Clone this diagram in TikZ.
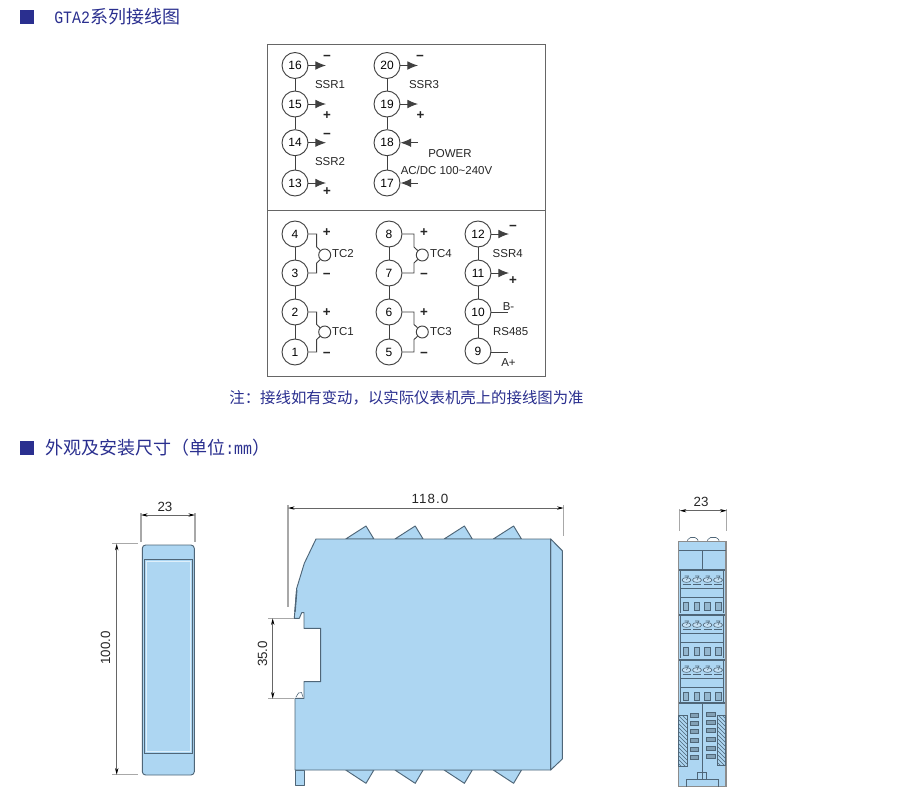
\documentclass[tikz,border=0pt]{standalone}
\usepackage{fontspec}
\setmainfont{Liberation Sans}
\newfontfamily\cjkf{Noto Sans CJK SC}
\newfontfamily\monof[FakeStretch=0.86]{Liberation Mono}
\usetikzlibrary{arrows.meta,patterns}
\definecolor{hblue}{HTML}{2A2F8F}
\definecolor{bodyblue}{HTML}{ADD6F2}
\definecolor{edgec}{HTML}{4F6678}
\definecolor{extc}{HTML}{A8A8A8}
\definecolor{wirec}{HTML}{404040}
\tikzset{
 term/.style={circle,draw=wirec,line width=0.7pt,minimum size=19.5pt,inner sep=0pt,fill=white,font=\fontsize{9}{10}\selectfont},
 tcring/.style={circle,draw=wirec,line width=0.7pt,minimum size=9pt,inner sep=0pt},
 lab/.style={inner sep=0pt,font=\fontsize{8.6}{10}\selectfont,text=black!85},
 signmark/.style={inner sep=0pt,font=\fontsize{10}{10}\bfseries\selectfont,text=black!85},
 wire/.style={draw=wirec,line width=0.7pt},
 outarrow/.style={wire,-{Latex[length=8pt,width=6.5pt]}},
 dimt/.style={inner sep=0pt,font=\fontsize{10}{11}\selectfont,text=black!85},
 extline/.style={draw=extc,line width=0.8pt},
 dimn/.style={draw=black!60,line width=0.6pt,{Stealth[length=5pt,width=2.5pt,black]}-{Stealth[length=5pt,width=2.5pt,black]}},
 bodyshape/.style={fill=bodyblue,draw=edgec,line width=0.7pt,line join=round},
 fineline/.style={draw=edgec,line width=0.45pt},
 bullet/.style={fill=hblue,draw=none},
 framebox/.style={draw=black!60,line width=0.7pt},
 heading/.style={inner sep=0pt,anchor=west,text=hblue}
}
\newcommand{\hcjk}[1]{{\fontsize{13.5}{15}\cjkf #1}}
\newcommand{\hmono}[1]{{\fontsize{13}{15}\monof #1}}
\newcommand{\rmodule}[1]{%
 \begin{scope}[yshift=#1*-0.75pt]
  \draw[fineline,line width=1pt] (679,570)--(725,570);
  \draw[fineline] (680.5,570)--(680.5,613) (723.5,570)--(723.5,613);
  \foreach \xx in {686.5,697,707.5,718}{
   \draw[fineline,fill=bodyblue!70] (\xx,580) ellipse (4.5 and 2.4);
   \draw[fineline] (\xx-2,576)--(\xx+2,576)--(\xx,580);
   \draw[fineline] (\xx-4,584.5)--(\xx+4,584.5);
  }
  \draw[fineline] (681,588)--(723,588) (681,597)--(723,597);
  \foreach \xx in {685.7,696.7,707.3,718.3}{
   \draw[fineline,line width=0.6pt,fill=bodyblue!85!black] (\xx-2.8,602) rectangle (\xx+2.8,610);
  }
 \end{scope}}
\begin{document}
\begin{tikzpicture}[x=0.75pt,y=-0.75pt]
\useasboundingbox (0,0) rectangle (900,801);
\fill[white] (0,0) rectangle (900,801);
% headings
\fill[bullet] (19.5,10) rectangle (34,24);
\node[heading] (h1) at (54,17) {\hmono{GTA2}\hcjk{系列接线图}};
\fill[bullet] (20,441) rectangle (34,455);
\node[heading] (h2) at (45,448) {\hcjk{外观及安装尺寸（单位}\hmono{:mm}\hcjk{）}};
\node[inner sep=0pt,text=hblue,font=\fontsize{11.55}{13}\cjkf] (note) at (406.5,398) {注：接线如有变动，以实际仪表机壳上的接线图为准};
% wiring box
\draw[framebox] (267,44) rectangle (545,376);
\draw[framebox] (267,210)--(545,210);
% terminals
\foreach \n/\x/\y in {16/295/65.5,15/295/104,14/295/142.7,13/295/183,
 20/387/65.5,19/387/104,18/387/142.7,17/387/183,
 4/295/234,3/295/273,2/295/312,1/295/352,
 8/389/234,7/389/273,6/389/312,5/389/352,
 12/478/234,11/478/273,10/478/312,9/478/351}{
 \node[term] (t\n) at (\x,\y) {\n};
}
\foreach \a/\b in {16/15,15/14,14/13,20/19,19/18,18/17,4/3,3/2,2/1,8/7,7/6,6/5,12/11,11/10,10/9}{
 \draw[wire] (t\a)--(t\b);
}
% arrows
\foreach \n/\xe/\ye in {16/326/65.5,15/326/104,14/326/142.7,13/326/183,20/418/65.5,19/418/104,12/509/234,11/509/273}{
 \coordinate (e\n) at (\xe,\ye);
 \draw[outarrow] (t\n)--(e\n);
}
\coordinate (e18) at (418,142.7);\coordinate (e17) at (418,183);
\draw[outarrow] (e18)--(t18);
\draw[outarrow] (e17)--(t17);
\coordinate (e10) at (508,312);\coordinate (e9) at (508,352);
\draw[wire] (t10)--(e10);
\draw[wire] (t9.east |- e9)--(e9);
% thermocouples
\foreach \r/\cx/\cy/\hi/\lo/\bx/\dy in {TCtwo/324.7/255/4/3/316.7/8,TCone/324.7/332/2/1/316.7/7.5,TCfour/422.3/255/8/7/414/8,TCthree/422.3/332/6/5/414/7.5}{
 \node[tcring] (\r) at (\cx,\cy) {};
 \draw[wire] (t\hi) -| (\bx,\cy-\dy) -- (\r);
 \draw[wire] (t\lo) -| (\bx,\cy+\dy) -- (\r);
}
% labels
\node[lab] (l1) at (330,85) {SSR1};
\node[lab] (l2) at (330,162) {SSR2};
\node[lab] (l3) at (424,85) {SSR3};
\node[lab] (l4) at (450,154) {POWER};
\node[lab] (l5) at (446.5,170) {AC/DC 100\textasciitilde 240V};
\node[lab] (l6) at (343,254) {TC2};
\node[lab] (l7) at (343,332) {TC1};
\node[lab] (l8) at (441,254) {TC4};
\node[lab] (l9) at (441,332) {TC3};
\node[lab] (l10) at (507.7,253.5) {SSR4};
\node[lab] (l11) at (510.7,332) {RS485};
\node[lab] (l12) at (508.5,306.5) {B-};
\node[lab] (l13) at (508.5,363) {A+};
\foreach \i/\x/\y/\s in {a/327/58/−,b/327/115.5/+,c/327/136/−,d/327/192/+,e/420/58/−,f/420.5/115.5/+,
 g/326.7/233/+,h/326.7/275.5/−,i/424/233/+,j/424/275.5/−,k/326.7/313/+,m/326.7/355/−,n/424/313/+,o/424/355/−,p/513/228/−,q/513/281/+}{
 \node[signmark] (s\i) at (\x,\y) {\s};
}
% left view
\draw[bodyshape,rounded corners=2.5pt] (142.3,545) rectangle (194.3,775);
\draw[draw=edgec,line width=0.8pt,fill=bodyblue] (144.5,559.5) rectangle (192.2,753.3);
\draw[draw=white!60!bodyblue,line width=0.6pt] (146,561) rectangle (190.8,751.8);
\draw[extline] (141,513)--(141,541.7);
\draw[extline] (195,513)--(195,541.7);
\coordinate (la) at (141,515);\coordinate (lb) at (195,515);
\draw[dimn] (la)--(lb);
\node[dimt] (d23a) at (165,506.5) {23};
\draw[extline] (112,543.7)--(138,543.7);
\draw[extline] (112,774.7)--(138,774.7);
\coordinate (lc) at (116.7,543.7);\coordinate (ld) at (116.7,774.7);
\draw[dimn] (lc)--(ld);
\node[dimt,rotate=90] (d100) at (105.5,648) {100.0};
% side view teeth
\foreach \d in {0,49.2,98.4,147.6}{
 \draw[bodyshape] (345.7+\d,539)--(366+\d,526)--(373.9+\d,539)--cycle;
 \draw[bodyshape] (345.7+\d,770)--(366+\d,783.3)--(373.9+\d,770)--cycle;
}
% foot and right strip
\draw[bodyshape] (295,770) rectangle (304,785);
\draw[bodyshape] (550.7,539)--(562.3,550.7)--(562.3,759)--(550.7,770)--cycle;
% side view main body
\draw[bodyshape] (316,539)--(550.7,539)--(550.7,770)--(295,770)--(295,698.3)--(304,698.3)--(304,681.7)--(320.7,681.7)--(320.7,628.3)--(304,628.3)--(304,612.7)--(301.7,612.7)--(299.3,618.3)--(294.3,618.3)--(296.7,588.3)--(304.3,563.3)--cycle;
\draw[draw=edgec,line width=1.1pt] (550.7,539)--(550.7,770);
\draw[fineline] (296,697)--(298.5,693)--(301.5,692.5)--(303,697);
\draw[draw=edgec,line width=1pt] (296.8,590)--(295,612);
\draw[extline] (288,505)--(288,606.7);
\draw[extline] (563.7,505)--(563.7,535.7);
\coordinate (ma) at (288,508);\coordinate (mb) at (563.7,508);
\draw[dimn] (ma)--(mb);
\node[dimt] (d118) at (430,498.5) {\addfontfeature{LetterSpace=8}118.0};
\draw[extline] (268,618.3)--(294,618.3);
\draw[extline] (268,698.7)--(294,698.7);
\coordinate (mc) at (272.7,618.3);\coordinate (md) at (272.7,698.7);
\draw[dimn] (mc)--(md);
\node[dimt,rotate=90] (d35) at (262.5,654) {35.0};
% front view
\draw[extline] (679.7,509)--(679.7,530.7);
\draw[extline] (726.7,509)--(726.7,530.7);
\coordinate (ra) at (679.7,510.7);\coordinate (rb) at (726.7,510.7);
\draw[dimn] (ra)--(rb);
\node[dimt] (d23b) at (701,502) {23};
\draw[fineline,rounded corners=1.5pt,fill=white] (687.3,541.7)--(688.5,537.5)--(697,537.5)--(698.3,541.7);
\draw[fineline,rounded corners=1.5pt,fill=white] (707.3,541.7)--(708.5,537.5)--(718,537.5)--(719.3,541.7);
\fill[bodyblue] (678.3,541.7) rectangle (726,786.7);
\draw[draw=black!45,line width=1pt] (678.3,541.7)--(678.3,786.7)--(726,786.7)--(726,541.7)--cycle;
\draw[fineline] (678.8,550.7)--(725.5,550.7);
\draw[fineline] (702.3,550.7)--(702.3,570);
\rmodule{0}
\rmodule{45}
\rmodule{90}
\draw[fineline,line width=1pt] (679,703)--(725,703);
\draw[fineline] (702.3,703)--(702.3,772.7);
\draw[fineline,pattern=north west lines,pattern color=edgec] (678.6,715)--(687.3,715)--(687.3,766.7)--(678.6,766.7)--cycle;
\draw[fineline,pattern=north west lines,pattern color=edgec] (717.3,715)--(725.7,715)--(725.7,765)--(717.3,765)--cycle;
\foreach \yy in {715,723.3,731.7,740.3,749,757.3}{
 \draw[fineline,fill=bodyblue!75!black] (690,\yy-2) rectangle (698.3,\yy+2);
 \draw[fineline,fill=bodyblue!75!black] (706.7,\yy-3) rectangle (715,\yy+1);
}
\draw[fineline] (686,786.7)--(686,779.3)--(718.3,779.3)--(718.3,786.7);
\draw[fineline] (697.7,779.3) rectangle (706.7,772.7);
\draw[fineline] (702.3,772.7)--(702.3,779.3);
\end{tikzpicture}
\end{document}
